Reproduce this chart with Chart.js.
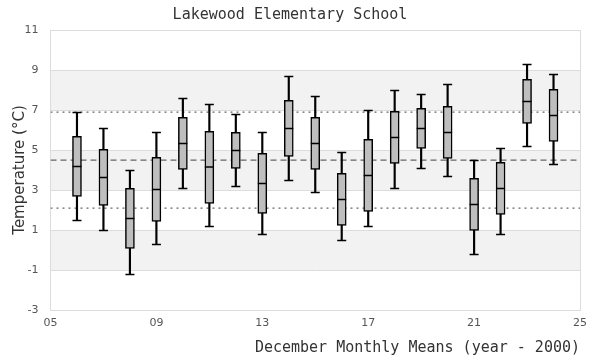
<!DOCTYPE html>
<html>
<head>
<meta charset="utf-8">
<script src="https://cdn.jsdelivr.net/npm/chart.js@4/dist/chart.umd.min.js"></script>
<style>
  html, body { margin: 0; padding: 0; background: #fff; }
  #wrap { width: 600px; height: 360px; }
</style>
</head>
<body>
<div id="wrap"><canvas id="chart" width="600" height="360"></canvas></div>
<script>
// ---------------------------------------------------------------------------
// Data — December monthly means, one box per year (year - 2000)
// ---------------------------------------------------------------------------
const years       = [6, 7, 8, 9, 10, 11, 12, 13, 14, 15, 16, 17, 18, 19, 20, 21, 22, 23, 24];
const whiskerLow  = [1.48, 0.98, -1.22, 0.28, 3.08, 1.18, 3.18, 0.78, 3.48, 2.88, 0.48, 1.18, 3.08, 4.08, 3.68, -0.22, 0.78, 5.18, 4.28];
const q1          = [2.68, 2.23, 0.08, 1.43, 4.03, 2.33, 4.08, 1.83, 4.68, 4.03, 1.23, 1.93, 4.33, 5.08, 4.58, 0.98, 1.78, 6.33, 5.43];
const median      = [4.18, 3.63, 1.58, 3.03, 5.33, 4.15, 4.98, 3.33, 6.08, 5.33, 2.53, 3.73, 5.63, 6.08, 5.88, 2.28, 3.08, 7.43, 6.73];
const q3          = [5.68, 5.03, 3.08, 4.63, 6.63, 5.93, 5.88, 4.83, 7.48, 6.63, 3.83, 5.53, 6.93, 7.08, 7.18, 3.58, 4.38, 8.53, 8.03];
const whiskerHigh = [6.88, 6.08, 3.97, 5.87, 7.58, 7.28, 6.78, 5.87, 8.68, 7.68, 4.87, 6.98, 7.98, 7.78, 8.28, 4.48, 5.08, 9.28, 8.78];

const overallMean = 4.49;
const upperSd     = 6.89;
const lowerSd     = 2.09;

const xTicks = [5, 9, 13, 17, 21, 25];
const yTicks = [-3, -1, 1, 3, 5, 7, 9, 11];
const bands  = [[7, 9], [3, 5], [-1, 1]];

// ---------------------------------------------------------------------------
// Shaded horizontal bands behind the grid
// ---------------------------------------------------------------------------
const bandPlugin = {
  id: 'bands',
  beforeDraw(chart) {
    const { ctx, chartArea: a, scales: { y } } = chart;
    ctx.save();
    ctx.fillStyle = '#f2f2f2';
    bands.forEach(([lo, hi]) => {
      const top = y.getPixelForValue(hi);
      const bot = y.getPixelForValue(lo);
      ctx.fillRect(a.left, top, a.right - a.left, bot - top);
    });
    ctx.restore();
  },
};

const hLine = (v) => [{ x: 5, y: v }, { x: 25, y: v }];
const byYear = (arr) => years.map((x, i) => ({ x, y: arr[i] }));

new Chart(document.getElementById('chart'), {
  type: 'bar',
  data: {
    datasets: [
      {
        type: 'line', label: 'median', order: 0,
        data: byYear(median), showLine: false,
        pointStyle: 'line', pointRadius: 4.5, pointBorderWidth: 1.5,
        pointBorderColor: '#000', pointHoverRadius: 4.5,
      },
      {
        type: 'line', label: 'caps', order: 0,
        data: byYear(whiskerLow).concat(byYear(whiskerHigh)), showLine: false,
        pointStyle: 'line', pointRadius: 4.5, pointBorderWidth: 1.5,
        pointBorderColor: '#000', pointHoverRadius: 4.5,
      },
      {
        label: 'box', order: 1, grouped: false,
        data: years.map((x, i) => ({ x, y: [q1[i], q3[i]] })),
        backgroundColor: '#bebebe', borderColor: '#000',
        borderWidth: 1.5, borderSkipped: false, barThickness: 9,
      },
      {
        label: 'whisker', order: 2, grouped: false,
        data: years.map((x, i) => ({ x, y: [whiskerLow[i], whiskerHigh[i]] })),
        backgroundColor: '#000', borderWidth: 0, barThickness: 1.5,
      },
      {
        type: 'line', label: 'mean', order: 3,
        data: hLine(overallMean), borderColor: '#666', borderWidth: 1.2,
        borderDash: [6, 4], pointRadius: 0, fill: false,
      },
      {
        type: 'line', label: '+sd', order: 3,
        data: hLine(upperSd), borderColor: '#666', borderWidth: 1.2,
        borderDash: [2, 4], pointRadius: 0, fill: false,
      },
      {
        type: 'line', label: '-sd', order: 3,
        data: hLine(lowerSd), borderColor: '#666', borderWidth: 1.2,
        borderDash: [2, 4], pointRadius: 0, fill: false,
      },
    ],
  },
  options: {
    responsive: false,
    animation: false,
    events: [],
    layout: { padding: { top: 0, right: 20, bottom: 0, left: 0 } },
    plugins: {
      legend: { display: false },
      tooltip: { enabled: false },
      title: {
        display: true,
        text: 'Lakewood Elementary School',
        color: '#333',
        font: { family: '"DejaVu Sans Mono", monospace', size: 15, weight: 'normal', lineHeight: 1.2 },
        padding: { top: 6, bottom: 6 },
      },
    },
    scales: {
      x: {
        type: 'linear',
        min: 5, max: 25,
        offset: false,
        afterBuildTicks: (s) => { s.ticks = xTicks.map(v => ({ value: v })); },
        afterFit: (s) => { s.height = 50; },
        ticks: {
          color: '#555',
          font: { family: '"DejaVu Sans", sans-serif', size: 11 },
          padding: 7,
          maxRotation: 0,
          callback: (v) => String(v).padStart(2, '0'),
        },
        grid: {
          offset: false,
          drawTicks: false,
          color: (c) => (c.tick && (c.tick.value === 5 || c.tick.value === 25)) ? '#dcdcdc' : 'rgba(0,0,0,0)',
        },
        border: { color: '#dcdcdc' },
        title: {
          display: true,
          text: 'December Monthly Means (year - 2000)',
          align: 'end',
          color: '#333',
          font: { family: '"DejaVu Sans Mono", monospace', size: 15, lineHeight: 1.2 },
          padding: { top: 9, bottom: 3 },
        },
      },
      y: {
        min: -3, max: 11,
        afterBuildTicks: (s) => { s.ticks = yTicks.map(v => ({ value: v })); },
        afterFit: (s) => { s.width = 50.5; },
        ticks: {
          color: '#555',
          font: { family: '"DejaVu Sans", sans-serif', size: 11 },
          padding: 12,
        },
        grid: { drawTicks: false, color: '#dcdcdc' },
        border: { color: '#dcdcdc' },
        title: {
          display: true,
          text: 'Temperature (°C)',
          color: '#333',
          font: { family: '"DejaVu Sans", sans-serif', size: 15, lineHeight: 1.2 },
          padding: { top: 11, bottom: 0 },
        },
      },
    },
  },
  plugins: [bandPlugin],
});
</script>
</body>
</html>
